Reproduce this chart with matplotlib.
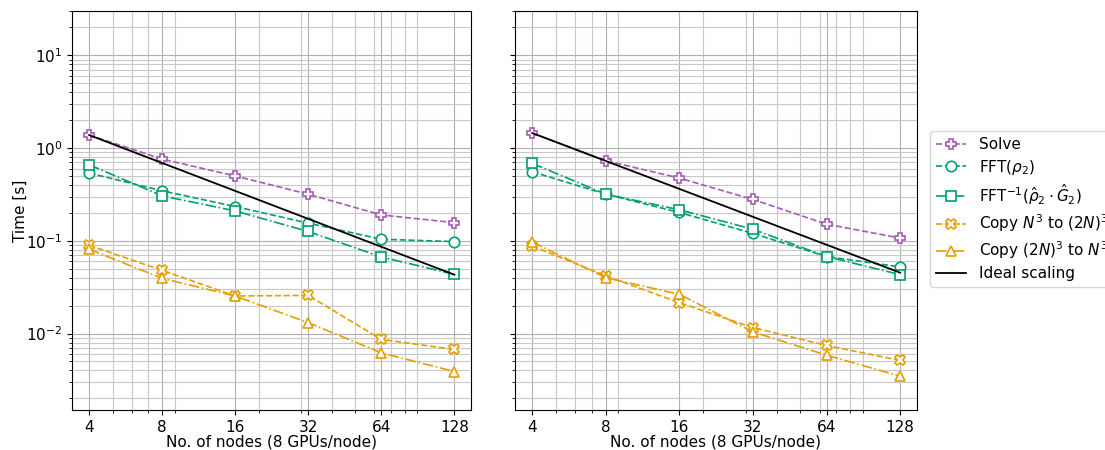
import numpy as np
import matplotlib
matplotlib.use("Agg")
import matplotlib.pyplot as plt
from matplotlib.ticker import LogLocator

nodes = [4, 8, 16, 32, 64, 128]
labels = ["Solve", r"FFT($\rho_2$)", r"FFT$^{-1}$($\hat{\rho}_2 \cdot \hat{G}_2$)",
          r"Copy $N^3$ to $(2N)^3$", r"Copy $(2N)^3$ to $N^3$"]

# left run
solve_a = [1.38, 0.76, 0.50, 0.318, 0.19, 0.157]
fft_a = [0.537, 0.346, 0.234, 0.155, 0.104, 0.098]
ifft_a = [0.66, 0.305, 0.21, 0.126, 0.067, 0.0435]
copy_up_a = [0.0895, 0.048, 0.0254, 0.0258, 0.00865, 0.00674]
copy_down_a = [0.081, 0.0394, 0.0254, 0.0131, 0.0062, 0.0039]

# right run
solve_b = [1.45, 0.73, 0.474, 0.279, 0.151, 0.107]
fft_b = [0.555, 0.318, 0.202, 0.12, 0.0676, 0.0523]
ifft_b = [0.683, 0.318, 0.216, 0.133, 0.0676, 0.0432]
copy_up_b = [0.088, 0.0418, 0.0215, 0.0116, 0.00745, 0.00513]
copy_down_b = [0.097, 0.040, 0.0265, 0.0104, 0.00585, 0.00347]

purple = "#a45cb4"
green = "#009e73"
orange = "#e69f00"
styles = [(purple, "P", "--"), (green, "o", "--"), (green, "s", "-."),
          (orange, "X", "--"), (orange, "^", "-.")]

plt.rcParams["font.size"] = 11

fig = plt.figure(figsize=(11.05, 4.5), dpi=100)
ax1 = fig.add_axes([72/1105, 40/450, 399/1105, 399/450])
ax2 = fig.add_axes([515/1105, 40/450, 402/1105, 399/450], sharey=ax1)


def draw(ax, series):
    for vals, (c, m, ls), lab in zip(series, styles, labels):
        ax.plot(nodes, vals, color=c, marker=m, linestyle=ls, markersize=7.5,
                markerfacecolor="white", markeredgewidth=1.2, lw=1.2, label=lab)
    n = np.array(nodes, dtype=float)
    ax.plot(n, series[0][0] * n[0] / n, color="black", lw=1.3, label="Ideal scaling")
    ax.set_xscale("log")
    ax.set_yscale("log")
    ax.set_xticks(nodes)
    ax.set_xticklabels([str(v) for v in nodes])
    ax.xaxis.set_minor_locator(LogLocator(base=10, subs=np.arange(2, 10)))
    ax.set_xlim(3.4, 150)
    ax.set_ylim(1.5e-3, 30)
    ax.grid(True, which="major", color="#b0b0b0", lw=0.8)
    ax.grid(True, which="minor", color="#c8c8c8", lw=0.8)
    ax.set_axisbelow(True)
    ax.set_xlabel("No. of nodes (8 GPUs/node)", labelpad=0)


draw(ax1, [solve_a, fft_a, ifft_a, copy_up_a, copy_down_a])
draw(ax2, [solve_b, fft_b, ifft_b, copy_up_b, copy_down_b])
ax1.set_ylabel("Time [s]", labelpad=-1)
ax2.tick_params(axis="y", which="both", labelleft=False)

handles, labs = ax1.get_legend_handles_labels()
fig.legend(handles, labs, loc="center left", bbox_to_anchor=(922/1105, 0.535),
           labelspacing=0.35)

fig.savefig("out.png", dpi=100)
